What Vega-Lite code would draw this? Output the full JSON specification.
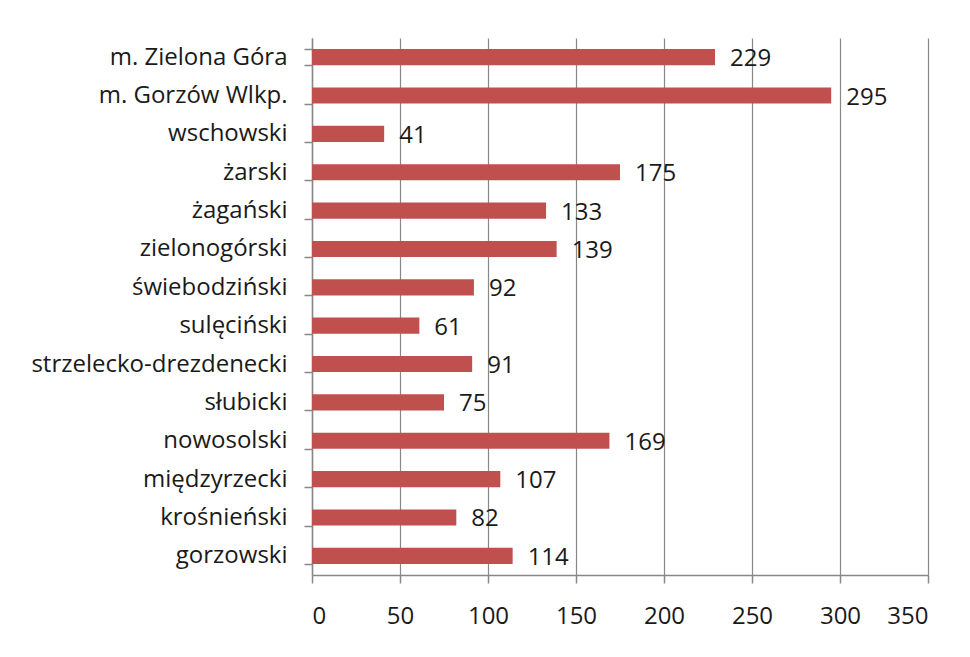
{
  "$schema": "https://vega.github.io/schema/vega-lite/v6.json",
  "autosize": {"type": "none"},
  "width": 616,
  "height": 537,
  "padding": {"left": 312, "top": 38, "right": 42, "bottom": 82},
  "background": "white",
  "config": {"view": {"stroke": null}, "font": "Open Sans"},
  "data": {"values": [
    {"powiat": "m. Zielona Góra", "value": 229},
    {"powiat": "m. Gorzów Wlkp.", "value": 295},
    {"powiat": "wschowski", "value": 41},
    {"powiat": "żarski", "value": 175},
    {"powiat": "żagański", "value": 133},
    {"powiat": "zielonogórski", "value": 139},
    {"powiat": "świebodziński", "value": 92},
    {"powiat": "sulęciński", "value": 61},
    {"powiat": "strzelecko-drezdenecki", "value": 91},
    {"powiat": "słubicki", "value": 75},
    {"powiat": "nowosolski", "value": 169},
    {"powiat": "międzyrzecki", "value": 107},
    {"powiat": "krośnieński", "value": 82},
    {"powiat": "gorzowski", "value": 114}
  ]},
  "encoding": {
    "y": {"field": "powiat", "type": "nominal", "sort": null,
      "scale": {"paddingInner": 0.58, "paddingOuter": 0.29},
      "axis": {"title": null, "labelFontSize": 24, "labelColor": "#1a1a1a", "labelPadding": 17, "labelLimit": 400,
        "tickBand": "extent", "tickSize": 8, "tickColor": "#888", "domainColor": "#888", "domainWidth": 1.5, "tickWidth": 1.5}},
    "x": {"field": "value", "type": "quantitative",
      "scale": {"domain": [0, 350]},
      "axis": {"title": null, "values": [0,50,100,150,200,250,300,350], "labelFontSize": 24, "labelColor": "#1a1a1a",
        "labelPadding": 21, "tickSize": 8, "tickColor": "#888", "domainColor": "#888", "domainWidth": 1.5, "tickWidth": 1.5,
        "gridColor": "#888", "gridWidth": 1.2, "gridOpacity": 1}}
  },
  "layer": [
    {"mark": {"type": "bar", "color": "#C0504D"}},
    {"mark": {"type": "text", "align": "left", "dx": 15, "dy": 2, "fontSize": 24, "color": "#1a1a1a", "baseline": "middle"},
      "encoding": {"text": {"field": "value", "type": "quantitative"}}}
  ]
}
